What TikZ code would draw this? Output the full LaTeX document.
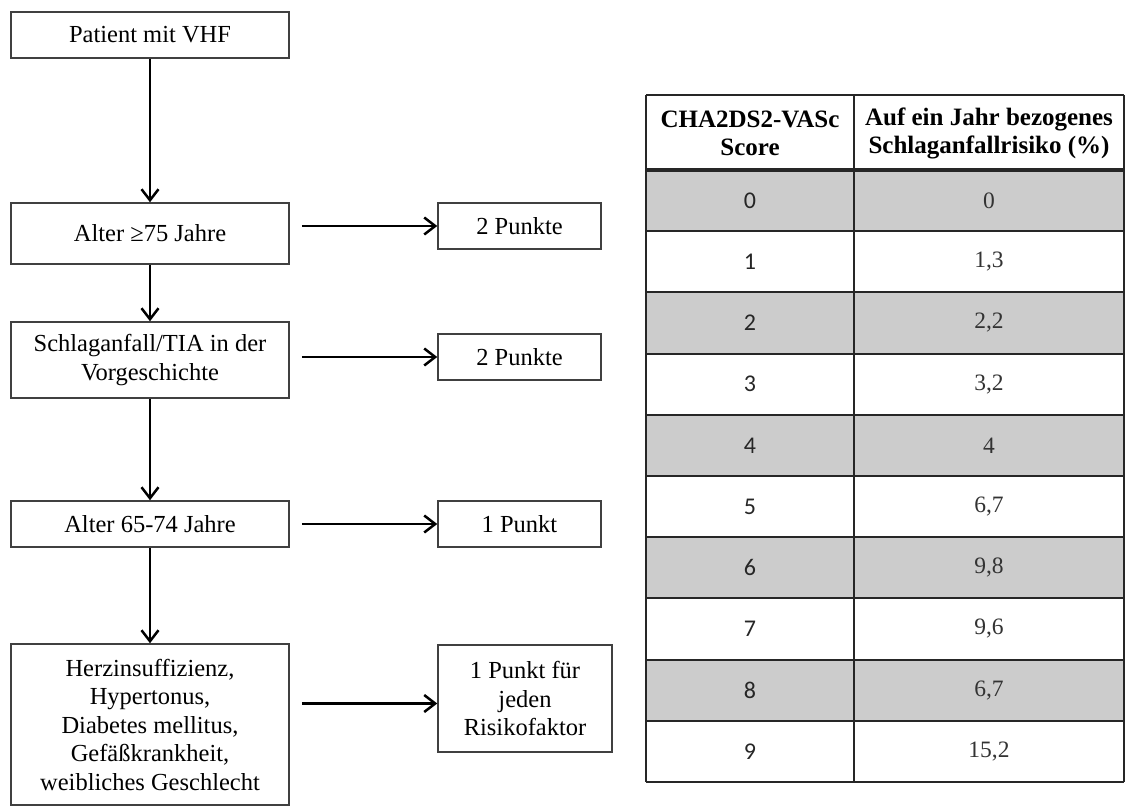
\documentclass[tikz,border=0pt]{standalone}
\usepackage{fontspec}
\setmainfont{Liberation Serif}
\newfontfamily\scorefont{Carlito}
\usetikzlibrary{arrows.meta}

\tikzset{
  flowbox/.style={draw=black!75, line width=1.5pt, align=center, inner sep=0pt,
    font=\fontsize{24.5}{28.5}\selectfont},
  arr/.style={line width=2.5pt, -{Straight Barb[length=11pt,width=17pt]}},
  headcell/.style={align=center, inner sep=0pt, font=\fontsize{25}{28}\selectfont\bfseries},
  scorecell/.style={inner sep=0pt, text=black!85, font=\fontsize{24}{26}\selectfont\scorefont},
  riskcell/.style={inner sep=0pt, text=black!80, font=\fontsize{23.5}{26}\selectfont},
  gridline/.style={draw=black!85, line width=2pt},
}

\begin{document}
\begin{tikzpicture}[x=1pt,y=-1pt]
\useasboundingbox (0,0) rectangle (1126,808);

% flowchart, left column
\node[flowbox, minimum width=278pt, minimum height=46pt] (vhf) at (150,35) {Patient mit VHF};
\node[flowbox, minimum width=278pt, minimum height=61pt] (alt75) at (150,233.5) {Alter ≥75 Jahre};
\node[flowbox, minimum width=278pt, minimum height=76pt] (tia) at (150,360) {Schlaganfall/TIA in der\\Vorgeschichte};
\node[flowbox, minimum width=278pt, minimum height=46pt] (alt65) at (150,524) {Alter 65-74 Jahre};
\node[flowbox, minimum width=278pt, minimum height=161pt] (risk) at (150,724.5)
  {Herzinsuffizienz,\\Hypertonus,\\Diabetes mellitus,\\Gefäßkrankheit,\\weibliches Geschlecht};

% points, right column
\node[flowbox, minimum width=163pt, minimum height=46pt] (pkt1) at (519.5,226) {2 Punkte};
\node[flowbox, minimum width=163pt, minimum height=46pt] (pkt2) at (519.5,357) {2 Punkte};
\node[flowbox, minimum width=163pt, minimum height=46pt] (pkt3) at (519.5,524) {1 Punkt};
\node[flowbox, minimum width=174pt, minimum height=107pt] (pkt4) at (525,698.5) {1 Punkt für\\jeden\\Risikofaktor};

\draw[arr] (vhf) -- (alt75);
\draw[arr] (alt75) -- (tia);
\draw[arr] (tia) -- (alt65);
\draw[arr] (alt65) -- (risk);

\draw[arr] ([xshift=12pt]alt75.east |- pkt1.west) -- (pkt1.west);
\draw[arr] ([xshift=12pt]tia.east |- pkt2.west) -- (pkt2.west);
\draw[arr] ([xshift=12pt]alt65.east |- pkt3.west) -- (pkt3.west);
\draw[arr] ([xshift=12pt,yshift=-5pt]risk.east |- pkt4.west) -- ([yshift=-5pt]pkt4.west);

% score table
\def\tl{646};   % left edge
\def\tm{854};   % middle line
\def\tr{1124};  % right edge
\def\rh{61.2};  % row height
\foreach \i/\v in {0/0,1/{1,3},2/{2,2},3/{3,2},4/4,5/{6,7},6/{9,8},7/{9,6},8/{6,7},9/{15,2}} {
  \pgfmathsetmacro\ytop{170+\rh*\i}
  \pgfmathsetmacro\ybot{170+\rh*(\i+1)}
  \pgfmathsetmacro\ymid{170+\rh*(\i+0.5)}
  \ifodd\i \else \fill[black!20] (\tl,\ytop) rectangle (\tr,\ybot); \fi
  \node[scorecell] (s\i) at (750,\ymid) {\i};
  \node[riskcell] (r\i) at (989,\ymid) {\v};
}
\node[headcell] (hscore) at (750,133) {CHA2DS2-VASc\\Score};
\node[headcell] (hrisk) at (989,133) {Auf ein Jahr bezogenes\\Schlaganfallrisiko (\%)};

\foreach \k in {1,...,10} {
  \draw[gridline] (\tl,170+\rh*\k) -- (\tr,170+\rh*\k);
}
\draw[gridline] (\tl,95) -- (\tr,95);
\draw[gridline, line width=3.5pt] (\tl,170) -- (\tr,170);
\draw[gridline] (\tl,95) -- (\tl,782);
\draw[gridline] (\tm,95) -- (\tm,782);
\draw[gridline] (\tr,95) -- (\tr,782);
\end{tikzpicture}
\end{document}
